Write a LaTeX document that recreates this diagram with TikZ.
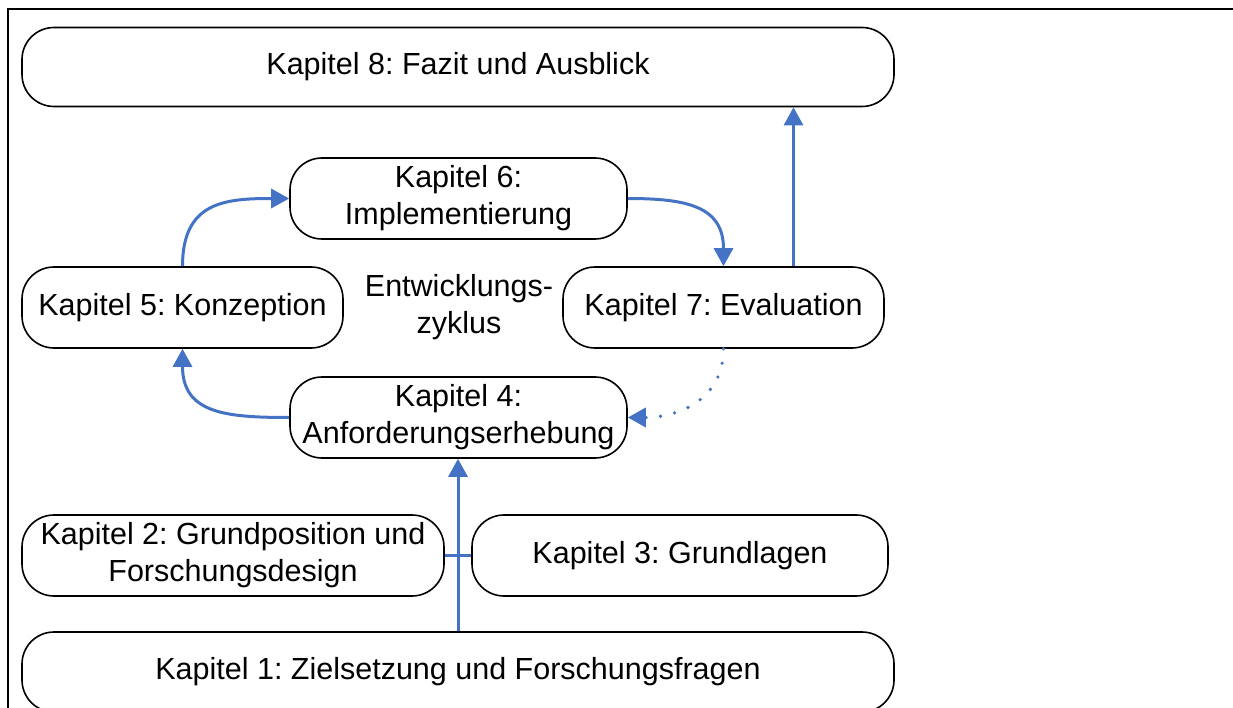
\documentclass[tikz,border=0pt]{standalone}
\usepackage{fontspec}
\setmainfont{Liberation Sans}
\usetikzlibrary{arrows.meta,calc}
\definecolor{flow}{RGB}{68,114,196}
\frenchspacing
\begin{document}
\begin{tikzpicture}[x=1pt,y=-1pt,
  chapter/.style={draw=black, line width=1.6pt, fill=white, rounded corners=32pt,
    inner sep=0pt, align=center, font=\fontsize{30.5}{37}\selectfont},
  arr/.style={draw=flow, line width=3pt, -{Triangle[length=18pt,width=19pt]}},
  dotarr/.style={draw=flow, line width=3.6pt, line cap=round,
    dash pattern=on 0pt off 14.5pt, -{Triangle[length=18pt,width=19pt]}}
]
\useasboundingbox (0,0) rectangle (1233,708);
% outer frame (top and left edges)
\draw[line width=2pt] (1234,9) -- (8,9) -- (8,709);

% chapter boxes
\node[chapter, minimum width=872pt, minimum height=79pt] (k8) at (458,67) {Kapitel 8: Fazit und Ausblick};
\node[chapter, minimum width=337pt, minimum height=81pt] (k6) at (458.5,198.5) {Kapitel 6:\\Implementierung};
\node[chapter, minimum width=321pt, minimum height=81pt] (k5) at (182.5,307.5) {Kapitel 5: Konzeption};
\node[chapter, minimum width=321pt, minimum height=81pt] (k7) at (723.5,307.5) {Kapitel 7: Evaluation};
\node[chapter, minimum width=337pt, minimum height=81pt] (k4) at (458.5,417.5) {Kapitel 4:\\Anforderungserhebung};
\node[chapter, minimum width=422pt, minimum height=81pt] (k2) at (233,555.5) {Kapitel 2: Grundposition und\\Forschungsdesign};
\node[chapter, minimum width=416pt, minimum height=81pt] (k3) at (680,555.5) {Kapitel 3: Grundlagen};
\node[chapter, minimum width=872pt, minimum height=80pt] (k1) at (458,672) {Kapitel 1: Zielsetzung und Forschungsfragen};

% centre label of the cycle
\node[align=center, inner sep=0pt, font=\fontsize{30.5}{37}\selectfont] (cyc) at (459,307) {Entwicklungs-\\zyklus};

% connectors
\draw[draw=flow, line width=3pt] (k2.east) -- (k3.west);
\draw[arr] (k1.north) -- (k1.north |- k4.south);
\draw[arr] (k4.west) to[out=180,in=270,looseness=1.3] (k5.south);
\draw[arr] (k5.north) to[out=90,in=180,looseness=1.3] (k6.west);
\draw[arr] (k6.east) to[out=0,in=90,looseness=1.3] (k7.north);
\draw[arr] ([xshift=70pt]k7.north) -- ([xshift=70pt]k7.north |- k8.south);
\draw[dotarr] (k7.south) to[out=270,in=0,looseness=1.1] (k4.east);
\end{tikzpicture}
\end{document}
